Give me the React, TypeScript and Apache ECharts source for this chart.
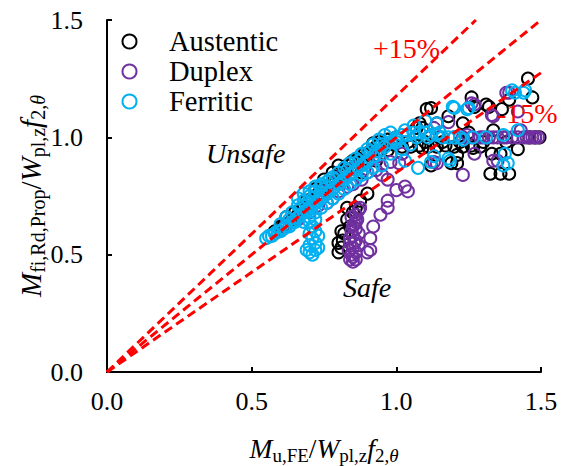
import React, { useEffect, useRef } from "react";
import * as echarts from "echarts";

const seriesNames = ["Austentic", "Duplex", "Ferritic"];
const seriesColors = ["#000000", "#7030A0", "#00B0F0"];
const axisTicks = [0, 0.5, 1.0, 1.5];

const austentic: number[][] = [
  [0.58, 0.6], [0.6, 0.62], [0.61, 0.62], [0.62, 0.66], [0.64, 0.65], [0.65, 0.68], [0.66, 0.67],
  [0.68, 0.7], [0.7, 0.72], [0.71, 0.74], [0.73, 0.76], [0.74, 0.74], [0.76, 0.79], [0.77, 0.8],
  [0.78, 0.85], [0.79, 0.82], [0.8, 0.88], [0.81, 0.84], [0.83, 0.88], [0.84, 0.89], [0.86, 0.87],
  [0.87, 0.91], [0.88, 0.9], [0.9, 0.925], [0.91, 0.94], [0.92, 0.975], [0.93, 0.96], [0.95, 0.95],
  [0.97, 0.99], [0.97, 0.945], [0.99, 0.97], [1.0, 1.0], [0.82, 0.86], [0.85, 0.9], [0.89, 0.93],
  [0.94, 0.98], [0.96, 0.97], [0.75, 0.82], [0.72, 0.78], [0.69, 0.73], [0.88, 0.85], [0.93, 0.9],
  [0.8, 0.51], [0.81, 0.53], [0.815, 0.56], [0.82, 0.59], [0.84, 0.62], [0.83, 0.65], [0.85, 0.68],
  [0.86, 0.7], [0.875, 0.73], [0.9, 0.76], [0.8, 0.55], [0.81, 0.6], [0.83, 0.7],
  [1.02, 0.96], [1.05, 0.96], [1.08, 0.965], [1.11, 0.96], [1.14, 0.96], [1.17, 0.965], [1.2, 0.96],
  [1.23, 0.96], [1.26, 0.965], [1.29, 0.96], [1.04, 0.98], [1.1, 0.98], [1.16, 0.98], [1.22, 0.98],
  [1.07, 1.04], [1.09, 1.04], [1.08, 1.06], [1.105, 1.12], [1.12, 1.125], [1.14, 1.06], [1.18, 1.09],
  [1.23, 1.06], [1.26, 1.17], [1.27, 1.13], [1.31, 1.14], [1.32, 1.13], [1.335, 1.03], [1.365, 1.12],
  [1.39, 1.16], [1.455, 1.25], [1.47, 1.17], [1.12, 0.88], [1.19, 0.89], [1.21, 0.89], [1.21, 0.925],
  [1.36, 0.93], [1.33, 0.93], [1.265, 0.955], [1.09, 0.955], [1.325, 0.845], [1.36, 0.845],
  [1.39, 0.845], [1.46, 1.0], [1.48, 1.0], [1.495, 1.0], [1.15, 1.0], [1.25, 1.02], [1.3, 0.98],
  [1.38, 0.98], [1.42, 0.95],
];

const duplex: number[][] = [
  [0.84, 0.48], [0.85, 0.47], [0.86, 0.48], [0.845, 0.5], [0.86, 0.51], [0.85, 0.53], [0.84, 0.55],
  [0.86, 0.56], [0.85, 0.58], [0.845, 0.6], [0.86, 0.61], [0.855, 0.63], [0.865, 0.65], [0.86, 0.67],
  [0.87, 0.69], [0.875, 0.7], [0.835, 0.52], [0.87, 0.54], [0.84, 0.57], [0.87, 0.59],
  [0.85, 0.49], [0.855, 0.55], [0.85, 0.62], [0.86, 0.64], [0.845, 0.66],
  [0.9, 0.51], [0.91, 0.52], [0.91, 0.57], [0.92, 0.62], [0.945, 0.67], [0.97, 0.7], [0.97, 0.73],
  [1.0, 0.775], [1.03, 0.79], [1.04, 0.77],
  [0.7, 0.68], [0.73, 0.71], [0.76, 0.72], [0.78, 0.74], [0.8, 0.77], [0.83, 0.79], [0.85, 0.8],
  [0.88, 0.82], [0.9, 0.85], [0.93, 0.86], [0.95, 0.84], [0.97, 0.82], [0.98, 0.895], [1.01, 0.89],
  [1.02, 0.93], [0.9, 0.9], [0.94, 0.92], [0.8, 0.83], [0.85, 0.87], [0.66, 0.65], [0.62, 0.63],
  [0.75, 0.77],
  [1.13, 0.895], [1.14, 0.89], [1.13, 1.04], [1.18, 1.065], [1.23, 0.84], [1.27, 0.93], [1.335, 0.9],
  [1.35, 0.9], [1.26, 1.145], [1.27, 1.14], [1.335, 1.09], [1.33, 1.095], [1.38, 1.19], [1.39, 1.19],
  [1.42, 1.11], [1.43, 1.03],
  [1.2, 1.0], [1.23, 1.0], [1.245, 1.01], [1.26, 1.0], [1.29, 1.0], [1.3, 1.0], [1.32, 1.0],
  [1.335, 1.0], [1.35, 1.0], [1.38, 1.0], [1.4, 1.0], [1.42, 1.0], [1.44, 1.0], [1.46, 1.0],
  [1.48, 1.0], [1.49, 1.0], [1.37, 1.0], [1.45, 1.0], [1.47, 1.0],
];

const ferritic: number[][] = [
  [0.55, 0.57], [0.56, 0.58], [0.57, 0.58], [0.58, 0.59], [0.59, 0.6], [0.6, 0.6], [0.61, 0.61],
  [0.62, 0.62], [0.63, 0.62], [0.64, 0.64], [0.65, 0.64], [0.66, 0.66], [0.67, 0.67], [0.68, 0.68],
  [0.69, 0.69], [0.7, 0.7], [0.71, 0.71], [0.72, 0.72], [0.73, 0.73], [0.74, 0.74], [0.75, 0.75],
  [0.76, 0.76], [0.78, 0.78], [0.8, 0.8], [0.82, 0.82], [0.84, 0.84], [0.86, 0.86], [0.88, 0.88],
  [0.9, 0.9], [0.92, 0.92], [0.94, 0.94], [0.96, 0.96], [0.98, 0.98], [1.0, 0.99],
  [0.62, 0.66], [0.64, 0.68], [0.66, 0.71], [0.68, 0.73], [0.7, 0.75], [0.72, 0.77], [0.74, 0.79],
  [0.76, 0.81], [0.78, 0.83], [0.8, 0.85], [0.82, 0.87], [0.84, 0.89], [0.86, 0.91], [0.88, 0.93],
  [0.9, 0.95], [0.92, 0.97], [0.94, 0.99], [0.96, 1.01], [0.98, 1.02],
  [0.66, 0.74], [0.68, 0.76], [0.7, 0.77], [0.72, 0.79], [0.74, 0.8], [0.77, 0.82],
  [0.6, 0.63], [0.63, 0.65], [0.67, 0.7], [0.71, 0.74], [0.75, 0.78], [0.79, 0.82], [0.83, 0.86],
  [0.87, 0.9], [0.91, 0.94], [0.95, 0.97], [0.77, 0.77], [0.81, 0.81], [0.85, 0.85], [0.89, 0.89],
  [0.68, 0.64], [0.7, 0.66], [0.72, 0.68], [0.74, 0.7], [0.76, 0.72], [0.78, 0.74], [0.8, 0.76],
  [0.82, 0.78], [0.84, 0.8], [0.86, 0.82], [0.88, 0.84], [0.9, 0.85], [0.92, 0.87], [0.95, 0.88],
  [0.7, 0.51], [0.71, 0.5], [0.72, 0.52], [0.7, 0.54], [0.72, 0.55], [0.71, 0.57], [0.7, 0.59],
  [0.72, 0.6], [0.71, 0.62], [0.7, 0.64], [0.72, 0.65], [0.73, 0.53], [0.69, 0.52], [0.73, 0.58],
  [1.0, 1.0], [1.02, 1.01], [1.04, 1.01], [1.06, 1.02], [1.08, 1.02], [1.1, 1.02], [1.12, 1.01],
  [1.14, 1.01], [1.16, 1.0], [1.18, 1.0], [1.2, 1.0], [1.22, 1.0], [1.03, 1.03], [1.07, 1.0],
  [1.11, 1.0], [1.15, 1.02],
  [0.98, 0.93], [1.02, 0.95], [1.05, 0.97], [1.03, 0.9], [0.93, 0.94], [1.0, 0.98],
  [1.195, 1.13], [1.245, 1.12], [1.2, 1.125], [1.25, 1.125], [1.4, 1.2], [1.41, 1.19], [1.44, 1.19],
  [1.445, 1.2], [1.185, 0.9], [1.18, 0.91], [1.13, 0.92], [1.12, 0.895], [1.075, 0.87], [1.375, 0.93],
  [1.385, 0.89], [1.37, 0.88], [1.31, 1.0], [1.265, 1.0], [1.37, 1.01], [1.42, 1.03], [1.23, 0.99],
  [1.14, 1.06], [1.1, 1.07], [1.06, 1.05],
];

const upperLine: number[][] = [[0, 0], [1.275, 1.5]];
const equalLine: number[][] = [[0, 0], [1.5, 1.5]];
const lowerLine: number[][] = [[0, 0], [1.5, 1.275]];

const FONT = "Liberation Serif";

function makeRich(big: number, small: number) {
  return {
    i: { fontFamily: FONT, fontStyle: "italic", fontSize: big, color: "#000", verticalAlign: "bottom", padding: [0, 0, 3, 0] },
    n: { fontFamily: FONT, fontSize: big, color: "#000", verticalAlign: "bottom", padding: [0, 0, 3, 0] },
    s: { fontFamily: FONT, fontSize: small, color: "#000", verticalAlign: "bottom" },
    t: { fontFamily: FONT, fontStyle: "italic", fontSize: small, color: "#000", verticalAlign: "bottom" },
  };
}

export default function App() {
  const ref = useRef<HTMLDivElement>(null);
  useEffect(() => {
    if (!ref.current) return;
    const chart = echarts.init(ref.current, null, { renderer: "svg" });
    const scatterSeries = [austentic, duplex, ferritic].map((d, k) => ({
      name: seriesNames[k],
      type: "scatter",
      data: d,
      symbol: "circle",
      symbolSize: 12,
      itemStyle: { color: "rgba(0,0,0,0)", borderColor: seriesColors[k], borderWidth: 2, opacity: 1 },
      z: 2 + k,
    }));
    const lineSeries = [upperLine, equalLine, lowerLine].map((d, k) => ({
      name: "ref" + k,
      type: "line",
      data: d,
      symbol: "none",
      lineStyle: { color: "#FF0000", width: 3, type: [9, 5] },
      z: 10,
      silent: true,
    }));
    const axisCommon = {
      min: 0,
      max: 1.5,
      interval: 0.5,
      splitLine: { show: false },
      axisLine: { show: true, onZero: false, lineStyle: { color: "#000", width: 2 } },
      axisTick: { show: true, inside: true, length: 5, lineStyle: { color: "#000", width: 2 } },
      axisLabel: {
        fontFamily: FONT,
        fontSize: 26,
        color: "#000",
        formatter: (v: number) => (axisTicks.includes(v) ? v.toFixed(1) : ""),
      },
      nameLocation: "middle",
      nameMoveOverlap: false,
    };
    chart.setOption({
      animation: false,
      backgroundColor: "#fff",
      grid: { left: 107, right: 28, top: 20, bottom: 94, containLabel: false, outerBoundsMode: "none" },
      legend: {
        data: seriesNames,
        orient: "vertical",
        left: 121.5,
        top: 27,
        padding: 0,
        itemWidth: 14,
        itemHeight: 14,
        itemGap: 1,
        icon: "circle",
        textStyle: { fontFamily: FONT, fontSize: 28.5, color: "#000", lineHeight: 28.5, padding: [0, 0, 0, 27.5] },
      },
      xAxis: {
        ...axisCommon,
        type: "value",
        axisLabel: { ...axisCommon.axisLabel, margin: 16 },
        name: "{i|M}{s|u,FE}{n|/}{i|W}{s|pl,z}{i|f}{s|2,}{t|θ}",
        nameTextStyle: { rich: makeRich(27.5, 19) },
        nameGap: 62,
      },
      yAxis: {
        ...axisCommon,
        type: "value",
        axisLabel: { ...axisCommon.axisLabel, margin: 24 },
        name: "{i|M}{s|fi,Rd,Prop}{n|/}{i|W}{s|pl,z}{i|f}{s|2,}{t|θ}",
        nameTextStyle: { rich: makeRich(29, 20) },
        nameRotate: 90,
        nameGap: 59,
      },
      graphic: [
        { type: "text", left: 373, top: 34, z: 100, style: { text: "+15%", fontFamily: FONT, fontSize: 28, fill: "#FF0000" } },
        { type: "text", left: 497, top: 99, z: 100, style: { text: "-15%", fontFamily: FONT, fontSize: 28, fill: "#FF0000" } },
        { type: "text", left: 206, top: 139, z: 100, style: { text: "Unsafe", fontFamily: FONT, fontStyle: "italic", fontSize: 28, fill: "#000" } },
        { type: "text", left: 343, top: 273, z: 100, style: { text: "Safe", fontFamily: FONT, fontStyle: "italic", fontSize: 28, fill: "#000" } },
      ],
      series: [...scatterSeries, ...lineSeries],
    });
    return () => chart.dispose();
  }, []);
  return <div ref={ref} style={{ position: "fixed", left: 0, top: 0, width: 569, height: 466 }} />;
}
